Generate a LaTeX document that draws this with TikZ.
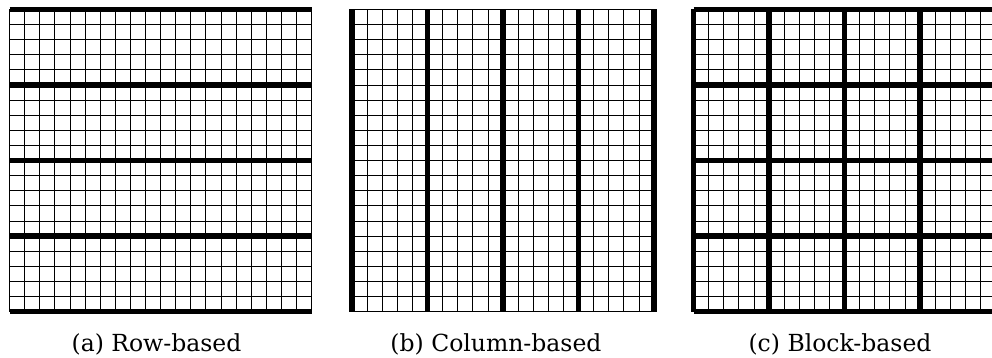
\documentclass[tikz,border=0pt]{standalone}
\usepackage{fontspec}
\newfontfamily\capfont{DejaVu Serif}
\begin{document}
\begin{tikzpicture}[x=1pt,y=-1pt,
  gridline/.style={line width=0.8pt,black},
  blockline/.style={line width=5.2pt,black},
  caption/.style={anchor=base,inner sep=0pt,font=\capfont\fontsize{23.5}{28}\selectfont}]
\useasboundingbox (0,0) rectangle (992,358);
\def\cs{15.1}
\def\gs{302}
\def\gy{9.5}
% grids: origin x / horizontal thick / vertical thick
\foreach \ox/\hh/\vv in {9.5/1/0, 352/0/1, 693.5/1/1} {
  \foreach \i in {0,...,20} {
    \draw[gridline] (\ox+\i*\cs,\gy) -- (\ox+\i*\cs,\gy+\gs);
    \draw[gridline] (\ox,\gy+\i*\cs) -- (\ox+\gs,\gy+\i*\cs);
  }
  \ifnum\hh=1
    \foreach \i in {0,5,10,15,20} {
      \draw[blockline] (\ox,\gy+\i*\cs) -- (\ox+\gs,\gy+\i*\cs);
    }
  \fi
  \ifnum\vv=1
    \foreach \i in {0,5,10,15,20} {
      \draw[blockline] (\ox+\i*\cs,\gy) -- (\ox+\i*\cs,\gy+\gs);
    }
  \fi
}
\node[caption] (capa) at (156.5,351.5) {(a) Row-based};
\node[caption] (capb) at (496,351.5) {(b) Column-based};
\node[caption] (capc) at (840,351.5) {(c) Block-based};
\end{tikzpicture}
\end{document}
